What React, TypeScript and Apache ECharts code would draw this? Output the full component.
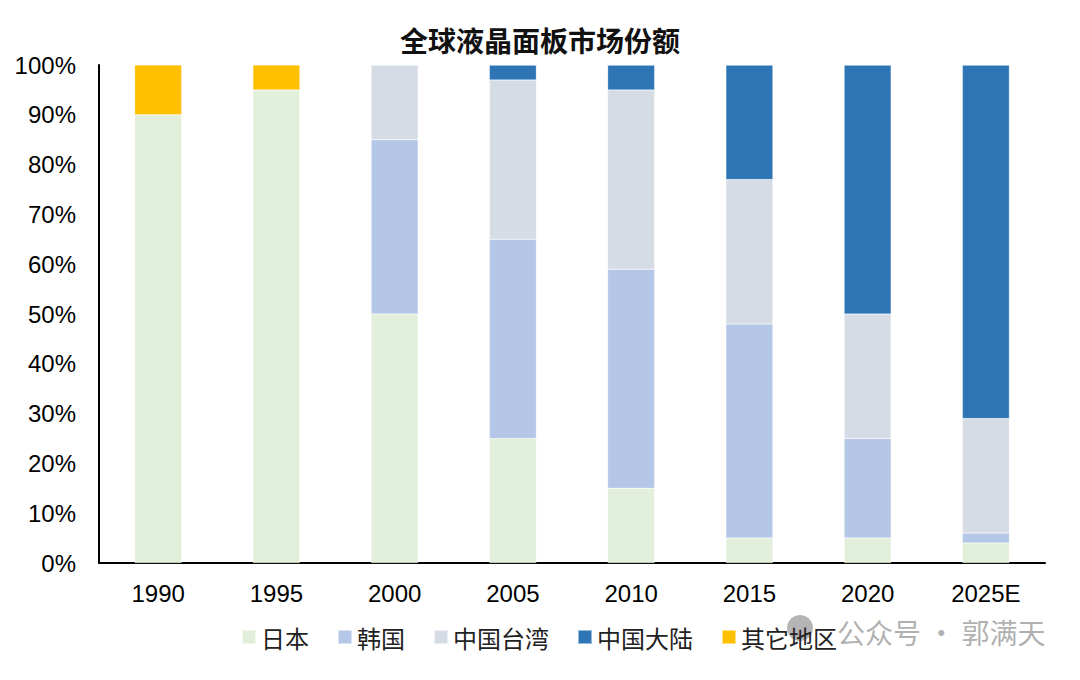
import React, { useEffect, useRef } from "react";
import * as echarts from "echarts";

const categories = ["1990", "1995", "2000", "2005", "2010", "2015", "2020", "2025E"];
const seriesNames = ["日本", "韩国", "中国台湾", "中国大陆", "其它地区"];
const japan = [90, 95, 50, 25, 15, 5, 5, 4];
const korea = [0, 0, 35, 40, 44, 43, 20, 2];
const taiwan = [0, 0, 15, 32, 36, 29, 25, 23];
const mainland = [0, 0, 0, 3, 5, 23, 50, 71];
const others = [10, 5, 0, 0, 0, 0, 0, 0];
const colors = ["#E2EFDA", "#B4C7E7", "#D6DCE5", "#2E75B6", "#FFC000"];

export default function App() {
  const ref = useRef<HTMLDivElement>(null);
  useEffect(() => {
    if (!ref.current) return;
    const chart = echarts.init(ref.current, null, { renderer: "svg" });
    const data = [japan, korea, taiwan, mainland, others];
    chart.setOption({
      animation: false,
      backgroundColor: "#ffffff",
      title: {
        text: "全球液晶面板市场份额",
        left: "center",
        top: 13,
        textStyle: {
          fontFamily: "Noto Sans CJK SC",
          fontWeight: "bold",
          fontSize: 28,
          color: "#111",
        },
      },
      grid: { left: 91, right: 27, top: 57, bottom: 109 },
      legend: {
        left: 228,
        top: 612,
        icon: "rect",
        itemWidth: 14,
        itemHeight: 14,
        itemGap: 28,
        data: seriesNames,
        textStyle: { fontFamily: "Noto Sans CJK SC", fontSize: 24, color: "#222" },
      },
      xAxis: {
        type: "category",
        data: categories,
        axisLine: { show: true, lineStyle: { color: "#000", width: 2 } },
        axisTick: { show: false },
        axisLabel: { fontFamily: "Liberation Sans, Arial", fontSize: 24, color: "#000", margin: 18 },
      },
      yAxis: {
        type: "value",
        min: 0,
        max: 100,
        interval: 10,
        axisLine: { show: true, lineStyle: { color: "#000", width: 2 } },
        axisTick: { show: false },
        splitLine: { show: false },
        axisLabel: {
          fontFamily: "Liberation Sans, Arial",
          fontSize: 24,
          color: "#000",
          margin: 23,
          formatter: "{value}%",
        },
      },
      series: seriesNames.map((name, i) => ({
        name,
        type: "bar",
        stack: "total",
        barWidth: 47,
        data: data[i],
        itemStyle: { color: colors[i], borderColor: "rgba(255,255,255,0.5)", borderWidth: 0.5 },
      })),
      graphic: [
        {
          type: "circle",
          shape: { cx: 792, cy: 620, r: 13 },
          style: { fill: "rgba(120,120,120,0.55)" },
        },
        {
          type: "text",
          left: 829,
          top: 610,
          style: {
            text: "公众号 · 郭满天",
            fontFamily: "Noto Sans CJK SC",
            fontSize: 28,
            fill: "rgba(150,150,150,0.75)",
          },
        },
      ],
    });
    return () => chart.dispose();
  }, []);
  return <div ref={ref} style={{ width: 1064, height: 664 }} />;
}
